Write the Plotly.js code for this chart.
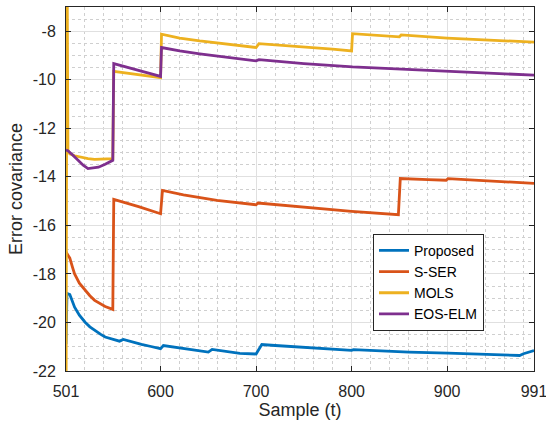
<!DOCTYPE html>
<html>
<head>
<meta charset="utf-8">
<script src="https://cdn.plot.ly/plotly-3.0.1.min.js"></script>
<style>html,body{margin:0;padding:0;background:#fff;}#chart{width:546px;height:427px;}</style>
</head>
<body>
<div id="chart"></div>
<script>
// Series names
const seriesNames = ['Proposed', 'S-SER', 'MOLS', 'EOS-ELM'];

// Proposed (blue)
const tProposed = [501, 502, 505, 508, 510, 515, 521, 526, 531, 537, 542, 547, 557, 561, 570, 580, 590, 600, 603, 615, 630, 640, 650, 654, 665, 683, 700, 706, 720, 740, 767, 774, 800, 802, 830, 860, 901, 930, 960, 976, 980, 991];
const vProposed = [-20.9, -18.8, -18.85, -19.2, -19.37, -19.7, -19.99, -20.18, -20.33, -20.48, -20.6, -20.66, -20.77, -20.7, -20.8, -20.9, -20.99, -21.08, -20.95, -21.02, -21.1, -21.15, -21.22, -21.11, -21.18, -21.27, -21.3, -20.91, -20.95, -21.0, -21.05, -21.08, -21.15, -21.12, -21.18, -21.22, -21.26, -21.29, -21.33, -21.36, -21.29, -21.16];

// S-SER (orange-red)
const tSSER = [501, 503, 505, 508, 510, 515, 521, 526, 531, 537, 542, 550, 551, 577, 600, 602, 624, 659, 700, 702, 735, 764, 800, 849, 851, 880, 899, 901, 940, 991];
const vSSER = [-17.1, -17.25, -17.35, -17.75, -18.0, -18.38, -18.68, -18.9, -19.09, -19.24, -19.34, -19.46, -14.93, -15.23, -15.52, -14.56, -14.74, -14.97, -15.15, -15.08, -15.2, -15.31, -15.42, -15.56, -14.07, -14.11, -14.14, -14.07, -14.15, -14.27];

// MOLS (yellow)
const tMOLS = [501, 502, 503, 505, 510, 517, 524, 531, 540, 550, 551, 600, 601, 620, 641, 660, 683, 700, 703, 730, 750, 753, 780, 800, 801, 850, 852, 900, 950, 991];
const vMOLS = [-25, -4, -12.9, -13.05, -13.13, -13.2, -13.25, -13.28, -13.27, -13.25, -9.65, -9.91, -8.12, -8.28, -8.4, -8.48, -8.58, -8.67, -8.51, -8.58, -8.64, -8.67, -8.74, -8.81, -8.1, -8.23, -8.15, -8.28, -8.37, -8.45];

// EOS-ELM (purple)
const tEOS = [501, 503, 508, 514, 519, 524, 530, 535, 542, 550, 551, 600, 601, 620, 641, 660, 683, 700, 703, 750, 801, 850, 901, 950, 991];
const vEOS = [-12.9, -12.92, -13.1, -13.32, -13.52, -13.66, -13.64, -13.6, -13.48, -13.32, -9.33, -9.86, -8.67, -8.81, -8.93, -9.03, -9.13, -9.22, -9.17, -9.33, -9.47, -9.56, -9.64, -9.73, -9.81];

// Axis ticks
const xTickVals = [501, 600, 700, 800, 900, 991];
const xTickText = ['501', '600', '700', '800', '900', '991'];
const yTickVals = [-22, -20, -18, -16, -14, -12, -10, -8];
const yTickText = ['-22', '-20', '-18', '-16', '-14', '-12', '-10', '-8'];

const colors = ['#0072BD', '#D95319', '#EDB120', '#7E2F8E'];
const xs = [tProposed, tSSER, tMOLS, tEOS];
const ys = [vProposed, vSSER, vMOLS, vEOS];

const traces = seriesNames.map((name, i) => ({
  type: 'scatter',
  mode: 'lines',
  name: name,
  x: xs[i],
  y: ys[i],
  line: {color: colors[i], width: 2.8},
  hoverinfo: 'skip'
}));

const axisCommon = {
  showline: true,
  linecolor: '#262626',
  linewidth: 1,
  mirror: 'ticks',
  ticks: 'inside',
  ticklen: 5,
  tickwidth: 1,
  tickcolor: '#262626',
  showgrid: true,
  gridcolor: '#e0e0e0',
  gridwidth: 1,
  zeroline: false,
  automargin: false,
  ticklabeloverflow: 'allow',
  tickfont: {family: 'Liberation Sans, Arial, sans-serif', size: 16, color: '#262626'}
};

const layout = {
  width: 546,
  height: 427,
  margin: {l: 66, r: 12, t: 7, b: 56},
  paper_bgcolor: '#ffffff',
  plot_bgcolor: '#ffffff',
  font: {family: 'Liberation Sans, Arial, sans-serif', size: 16, color: '#262626'},
  showlegend: true,
  legend: {
    x: 0.656, y: 0.377, xanchor: 'left', yanchor: 'top',
    bgcolor: '#ffffff', bordercolor: '#262626', borderwidth: 1,
    font: {family: 'Liberation Sans, Arial, sans-serif', size: 14, color: '#000000'},
    tracegroupgap: 0
  },
  xaxis: Object.assign({}, axisCommon, {
    range: [501, 991],
    tickmode: 'array',
    tickvals: xTickVals,
    ticktext: xTickText,
    ticklabelstandoff: 6,
    minor: {tickmode: 'linear', tick0: 500, dtick: 20, showgrid: true, gridcolor: '#cfcfcf', griddash: 'dot', gridwidth: 1, ticks: ''},
    title: {text: 'Sample (t)', font: {family: 'Liberation Sans, Arial, sans-serif', size: 18, color: '#262626'}, standoff: 4}
  }),
  yaxis: Object.assign({}, axisCommon, {
    range: [-22, -7],
    tickmode: 'array',
    tickvals: yTickVals,
    ticktext: yTickText,
    ticklabelstandoff: 6,
    minor: {tickmode: 'linear', tick0: -22, dtick: 0.5, showgrid: true, gridcolor: '#cfcfcf', griddash: 'dot', gridwidth: 1, ticks: ''},
    title: {text: 'Error covariance', font: {family: 'Liberation Sans, Arial, sans-serif', size: 18, color: '#262626'}, standoff: 5}
  })
};

Plotly.newPlot('chart', traces, layout, {staticPlot: true, displayModeBar: false});
</script>
</body>
</html>
